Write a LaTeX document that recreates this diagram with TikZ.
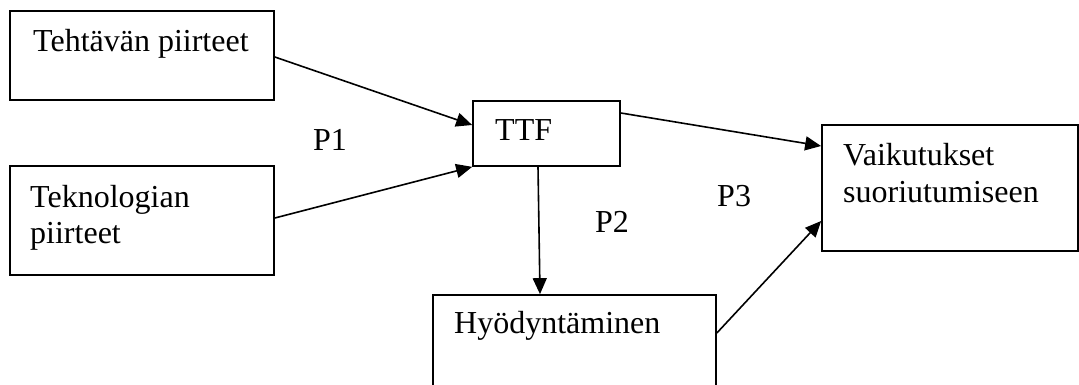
\documentclass[tikz,border=0pt]{standalone}
\usepackage{fontspec}
\setmainfont{Liberation Serif}
\usetikzlibrary{arrows.meta}

\tikzset{
  box/.style={draw, line width=1.7pt, inner sep=0pt, anchor=center},
  label/.style={anchor=base west, inner sep=0pt, font=\fontsize{32}{36}\selectfont},
  link/.style={line width=1.6pt, -{Triangle[length=16pt,width=14pt]}},
}

\begin{document}
\begin{tikzpicture}[x=1pt, y=-1pt]
  \useasboundingbox (0,0) rectangle (1079,385);
  \clip (0,0) rectangle (1079,385);

  % boxes
  \node[box, minimum width=264pt, minimum height=89pt]  (tp)  at (142,55.5) {};
  \node[box, minimum width=264pt, minimum height=109pt] (tk)  at (142,220.5) {};
  \node[box, minimum width=147pt, minimum height=65pt]  (ttf) at (546.5,133.5) {};
  \node[box, minimum width=256pt, minimum height=126pt] (vk)  at (950,188) {};
  \node[box, minimum width=283pt, minimum height=125pt] (hy)  at (574.5,357.5) {};

  % box texts
  \node[label] (tpt)  at (33,52)  {Tehtävän piirteet};
  \node[label] (tkt1) at (30,207) {Teknologian};
  \node[label] (tkt2) at (30,243) {piirteet};
  \node[label] (ttft) at (495,141) {TTF};
  \node[label] (vkt1) at (843,165) {Vaikutukset};
  \node[label] (vkt2) at (843,202) {suoriutumiseen};
  \node[label] (hyt)  at (454,333) {Hyödyntäminen};

  % path labels
  \node[label] (p1) at (313,151) {P1};
  \node[label] (p2) at (595,232) {P2};
  \node[label] (p3) at (717,206) {P3};

  % connectors
  \draw[link] ([yshift=-1.5pt]tp.east) -- ([yshift=8.5pt]ttf.west);
  \draw[link] ([yshift=2.5pt]tk.east) -- (ttf.south west);
  \draw[link] ([yshift=20.5pt]ttf.east) -- ([yshift=42pt]vk.west);
  \draw[link] ([xshift=-8.5pt]ttf.south) -- ([xshift=-34.5pt]hy.north);
  \draw[link] ([yshift=24.5pt]hy.east) -- ([yshift=-33pt]vk.west);
\end{tikzpicture}
\end{document}
